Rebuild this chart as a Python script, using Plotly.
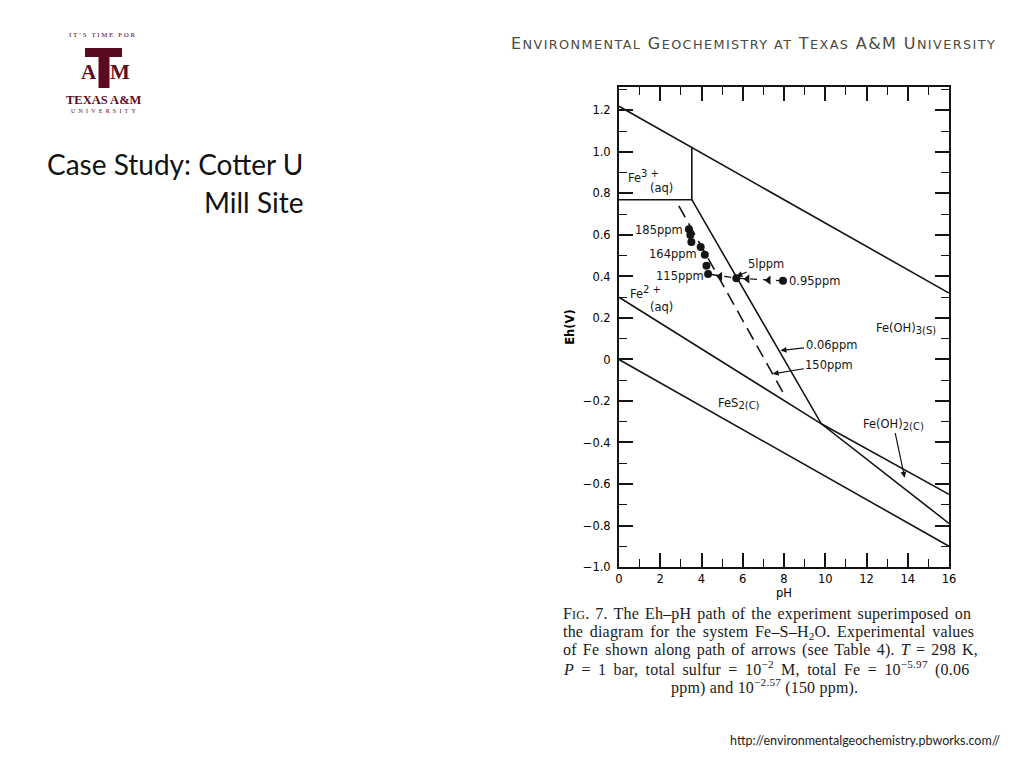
import plotly.graph_objects as go

# ---------------- data ----------------
# stability-field boundaries (pH, Eh in V)
water_upper_ph = [0, 16]
water_upper_eh = [1.22, 0.32]
fe3_box_ph = [0, 3.53, 3.53]
fe3_box_eh = [0.77, 0.77, 1.02]
fe2_fe3_ph = [3.53, 9.81, 16]
fe2_fe3_eh = [0.77, -0.31, -0.79]
fe2_upper_ph = [0, 9.81, 16]
fe2_upper_eh = [0.30, -0.31, -0.65]
water_lower_ph = [0, 16]
water_lower_eh = [0.0, -0.90]
fe150_ph = [2.90, 8.07]          # 150 ppm boundary (dashed)
fe150_eh = [0.74, -0.18]

# experimental path
path_ph = [7.95, 5.69, 4.32]
path_eh = [0.379, 0.392, 0.412]
sample_ph = [3.39, 3.46, 3.51, 3.96, 4.16, 4.24, 4.32, 5.69, 7.95]
sample_eh = [0.628, 0.600, 0.566, 0.542, 0.505, 0.452, 0.412, 0.392, 0.379]
# arrowheads drawn along the path (pointing towards lower pH)
arrowhead_ph = [7.25, 6.22, 4.90]
arrowhead_eh = [0.382, 0.388, 0.401]

# axis ticks
x_ticks = [0, 2, 4, 6, 8, 10, 12, 14, 16]
y_ticks = [1.2, 1.0, 0.8, 0.6, 0.4, 0.2, 0, -0.2, -0.4, -0.6, -0.8, -1.0]
y_tick_text = ["1.2", "1.0", "0.8", "0.6", "0.4", "0.2", "0",
               "\u22120.2", "\u22120.4", "\u22120.6", "\u22120.8", "\u22121.0"]

SUB = '<sub><span style="font-size:10px">{}</span></sub>'
SUP = '<sup><span style="font-size:10px">{}</span></sup>'

# text labels: (text, pH, Eh)
field_labels = [
    ("185ppm", 1.93, 0.625),
    ("164ppm", 2.60, 0.510),
    ("115ppm", 2.95, 0.402),
    ("0.95ppm", 9.50, 0.379),
    ("Fe" + SUP.format("3 +"), 1.20, 0.880),
    ("(aq)", 2.05, 0.827),
    ("Fe" + SUP.format("2 +"), 1.30, 0.322),
    ("(aq)", 2.05, 0.254),
    ("Fe(OH)" + SUB.format("3(S)"), 13.90, 0.150),
    ("FeS" + SUB.format("2(C)"), 5.80, -0.214),
]
# arrows with labels: (text, tip pH, tip Eh, text pH, text Eh)
arrow_labels = [
    ("5lppm", 5.69, 0.400, 7.14, 0.461),
    ("0.06ppm", 7.83, 0.043, 10.28, 0.071),
    ("150ppm", 7.45, -0.069, 10.20, -0.025),
    ("Fe(OH)" + SUB.format("2(C)"), 13.85, -0.57, 13.30, -0.312),
]

INK = "#151515"
MAROON = "#5c0a22"

fig = go.Figure()

def boundary(xs, ys, dash="solid"):
    fig.add_trace(go.Scatter(x=xs, y=ys, mode="lines",
                             line=dict(color=INK, width=1.6, dash=dash),
                             hoverinfo="skip", showlegend=False))

boundary(water_upper_ph, water_upper_eh)
boundary(fe3_box_ph, fe3_box_eh)
boundary(fe2_fe3_ph, fe2_fe3_eh)
boundary(fe2_upper_ph, fe2_upper_eh)
boundary(water_lower_ph, water_lower_eh)
boundary(fe150_ph, fe150_eh, dash="13px,7px")

fig.add_trace(go.Scatter(x=path_ph, y=path_eh, mode="lines",
                         line=dict(color=INK, width=1.4, dash="7px,6px"),
                         hoverinfo="skip", showlegend=False))
fig.add_trace(go.Scatter(x=arrowhead_ph, y=arrowhead_eh, mode="markers",
                         marker=dict(color=INK, size=8, symbol="triangle-left"),
                         hoverinfo="skip", showlegend=False))
fig.add_trace(go.Scatter(x=sample_ph, y=sample_eh, mode="markers",
                         marker=dict(color=INK, size=8),
                         hoverinfo="skip", showlegend=False))

CHART_FONT = dict(family="DejaVu Sans", size=11.5, color=INK)

for txt, x, y in field_labels:
    fig.add_annotation(x=x, y=y, text=txt, showarrow=False, font=CHART_FONT,
                       xanchor="center", yanchor="middle")

for txt, x, y, tx, ty in arrow_labels:
    fig.add_annotation(x=x, y=y, ax=tx, ay=ty, axref="x", ayref="y",
                       text=txt, showarrow=True, arrowhead=2, arrowsize=1,
                       arrowwidth=1.2, arrowcolor=INK, font=CHART_FONT)

# ---------------- slide furniture (pixel placement) ----------------
PL, PR, PT, PB = 619, 949, 87, 567

def fx(px):
    return (px - PL) / (PR - PL)

def fy(py):
    return (PB - py) / (PB - PT)

def slide_text(txt, px, py, size, family, color, xanchor="left", **kw):
    fig.add_annotation(x=fx(px), y=fy(py), xref="paper", yref="paper",
                       text=txt, showarrow=False, xanchor=xanchor,
                       yanchor="middle", font=dict(size=size, family=family,
                                                   color=color), **kw)

# header (small caps imitation)
sc = '<span style="font-size:12.8px">'
header = ('<span style="letter-spacing:1.4px">E' + sc + "NVIRONMENTAL</span> G"
          + sc + "EOCHEMISTRY AT</span> T" + sc + "EXAS</span> A&amp;M U"
          + sc + "NIVERSITY</span></span>")
slide_text(header, 998, 44, 16, "DejaVu Sans", "#4a4a40", xanchor="right")

# slide title
slide_text("Case Study: Cotter U", 305, 164, 28, "Lato", "#111111", xanchor="right")
slide_text("Mill Site", 305, 202, 28, "Lato", "#111111", xanchor="right")

# logo
slide_text('<span style="letter-spacing:1.6px">IT\u2019S TIME FOR</span>', 103, 35,
           7, "Liberation Serif", MAROON, xanchor="center")
fig.add_shape(type="rect", xref="paper", yref="paper", x0=fx(85), x1=fx(122),
              y0=fy(57), y1=fy(48), fillcolor=MAROON, line_width=0)
fig.add_shape(type="rect", xref="paper", yref="paper", x0=fx(98.5), x1=fx(109.5),
              y0=fy(88), y1=fy(57), fillcolor=MAROON, line_width=0)
slide_text("<b>A</b>", 89, 72, 21, "Liberation Serif", MAROON, xanchor="center")
slide_text("<b>M</b>", 119.5, 72, 21, "Liberation Serif", MAROON, xanchor="center")
slide_text("<b>TEXAS A&amp;M</b>", 104, 100, 12.5, "Liberation Serif", MAROON,
           xanchor="center")
slide_text('<span style="letter-spacing:3.2px">UNIVERSITY</span>', 105, 111, 6,
           "Liberation Serif", MAROON, xanchor="center")

# figure caption (justified lines imitated with word spacing)
CAP = "Liberation Serif"
cap_lines = [
    ("F<span style='font-size:12px'>IG</span>. 7. The Eh\u2013pH path of the experiment superimposed on", 1.8),
    ("the diagram for the system Fe\u2013S\u2013H<sub>2</sub>O. Experimental values", 2.4),
    ("of Fe shown along path of arrows (see Table 4). <i>T</i> = 298 K,", 1.9),
    ("<i>P</i> = 1 bar, total sulfur = 10<sup>\u22122</sup> M, total Fe = 10<sup>\u22125.97</sup> (0.06", 3.2),
]
cap_y = [614, 632, 650, 668]
for (line, ws), yy in zip(cap_lines, cap_y):
    slide_text('<span style="letter-spacing:0.2px;word-spacing:%.1fpx">%s</span>'
               % (ws, line), 561, yy, 16, CAP, "#1a1a1a")
slide_text('<span style="letter-spacing:0.2px">ppm) and 10<sup>\u22122.57</sup> (150 ppm).</span>',
           764, 686, 16, CAP, "#1a1a1a", xanchor="center")

# url
slide_text("http://environmentalgeochemistry.pbworks.com//", 1003, 740, 12.5,
           "Lato", "#222222", xanchor="right")

axis_common = dict(showline=True, linecolor=INK, linewidth=2, mirror="allticks",
                   ticks="inside", ticklen=14, tickwidth=1.6, tickcolor=INK,
                   showgrid=False, zeroline=False,
                   tickfont=dict(family="DejaVu Sans", size=11.5, color="#000"))

fig.update_layout(
    width=1024, height=768,
    margin=dict(l=PL, r=1024 - PR, t=PT, b=768 - PB, pad=0),
    paper_bgcolor="white", plot_bgcolor="white",
    showlegend=False,
    xaxis=dict(range=[0, 16], tickvals=x_ticks,
               minor=dict(dtick=1, ticklen=8, tickwidth=1.4, tickcolor=INK,
                          ticks="inside"),
               title=dict(text="pH", font=dict(family="DejaVu Sans", size=11.5,
                                                color="#000"), standoff=2),
               **axis_common),
    yaxis=dict(range=[-1.0, 1.313], tickvals=y_ticks, ticktext=y_tick_text,
               ticklabelstandoff=4,
               minor=dict(dtick=0.1, tick0=0, ticklen=8, tickwidth=1.4,
                          tickcolor=INK, ticks="inside"),
               title=dict(text="<b>Eh(V)</b>", font=dict(family="DejaVu Sans",
                                                          size=11.5, color="#000"),
                          standoff=6),
               **axis_common),
)

fig.write_html("out.html", config={"displayModeBar": False},
               post_script="document.body.style.margin='0px';")
